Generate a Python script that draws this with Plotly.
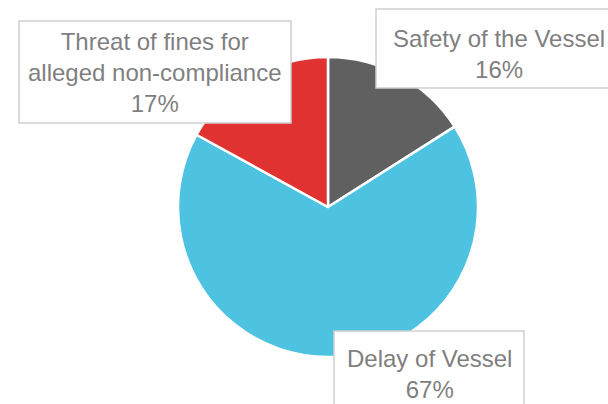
import plotly.graph_objects as go

W, H = 608, 404

categories = ["Safety of the Vessel", "Delay of Vessel", "Threat of fines for<br>alleged non-compliance"]
values = [16, 67, 17]
pct_labels = ["16%", "67%", "17%"]
colors = ["#606060", "#4dc3e1", "#e03331"]

def px(x):
    return x / W

def py(y):
    return 1 - y / H

fig = go.Figure(go.Pie(
    labels=categories,
    values=values,
    sort=False,
    direction="clockwise",
    rotation=0,
    textinfo="none",
    hoverinfo="label+percent",
    marker=dict(colors=colors, line=dict(color="white", width=2.5)),
    domain=dict(x=[px(178), px(478)], y=[py(357), py(57)]),
    showlegend=False,
))

# label boxes (window pixel geometry) and text centers
boxes = [
    (376, 9, 640, 88),     # Safety
    (334, 331, 524, 440),  # Delay
    (19, 21, 291, 123),    # Threat
]
centers = [(499, 54), (429, 374), (155, 73)]

shapes = []
annotations = []
for (x0, y0, x1, y1), (cx, cy), cat, pct in zip(boxes, centers, categories, pct_labels):
    shapes.append(dict(type="rect", xref="paper", yref="paper",
                       x0=px(x0), x1=px(x1), y0=py(y1), y1=py(y0),
                       line=dict(color="#d0d0d0", width=1.5),
                       fillcolor="white", layer="above"))
    annotations.append(dict(xref="paper", yref="paper", x=px(cx), y=py(cy),
                            xanchor="center", yanchor="middle", showarrow=False,
                            text=f"{cat}<br>{pct}", align="center",
                            font=dict(family="Liberation Sans, Arial, sans-serif",
                                      size=24, color="#7f7f7f")))

fig.update_layout(
    width=W, height=H,
    margin=dict(l=0, r=0, t=0, b=0),
    paper_bgcolor="white",
    plot_bgcolor="white",
    shapes=shapes,
    annotations=annotations,
)

fig.write_html(
    "out.html",
    config={"displayModeBar": False},
    post_script="document.body.style.margin='0';document.body.style.overflow='hidden';",
)
